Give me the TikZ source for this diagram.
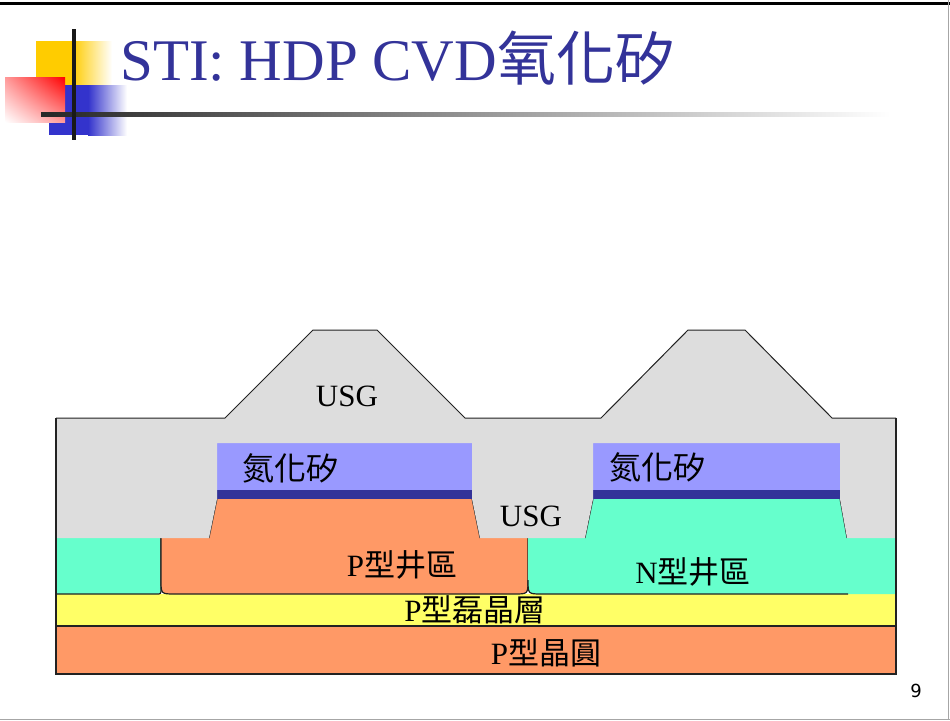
\documentclass[tikz,border=0pt]{standalone}
\usepackage{fontspec}
\usetikzlibrary{shadings}
\setmainfont{Liberation Serif}
\newfontfamily\cjk{Noto Sans CJK TC}
\newfontfamily\numfont{DejaVu Sans}
\definecolor{titleblue}{HTML}{333399}
\definecolor{usg}{HTML}{DDDDDD}
\definecolor{nitride}{HTML}{9999FF}
\definecolor{padox}{HTML}{333399}
\definecolor{pwell}{HTML}{FF9966}
\definecolor{nwell}{HTML}{66FFCC}
\definecolor{epi}{HTML}{FFFF66}
\definecolor{logoyellow}{HTML}{FFCC00}
\definecolor{logoblue}{HTML}{3333CC}
\definecolor{edge}{HTML}{222222}
\begin{document}
\begin{tikzpicture}[x=1pt,y=-1pt,
  outline/.style={draw=edge,line width=1.2pt,line join=miter},
  label/.style={inner sep=0pt,text=black,font=\fontsize{31}{31}\selectfont},
  cjklabel/.style={inner sep=0pt,text=black,font=\fontsize{32}{32}\selectfont\cjk}]
\useasboundingbox (0,0) rectangle (950,720);

% slide frame
\fill[black] (0,2) rectangle (950,5);
\draw[gray!70,line width=1pt] (948,0) -- (948,720);
\draw[gray!70,line width=1pt] (0,719) -- (950,719);

% corner logo
\fill[logoyellow] (36,41) rectangle (72,85);
\shade[left color=logoyellow,right color=white] (72,41) rectangle (112,85);
\fill[logoblue] (49,85) rectangle (88,135);
\shade[left color=logoblue,right color=white] (88,85) rectangle (127,135);
\shade[upper right=red,lower left=white,upper left=red!40!white,lower right=red!40!white]
  (5,77) rectangle (65,122);
\shade[left color=black!85,right color=white] (41,112) rectangle (890,116);
\fill[black!90] (72,29) rectangle (76,140);

% title
\node[anchor=base west,inner sep=0pt,text=titleblue,font=\fontsize{59}{59}\selectfont]
  (title) at (120,80) {STI: HDP CVD{\cjk 氧化矽}};

% substrate layers
\fill[pwell] (56,626) rectangle (896,674);
\fill[epi] (56,594) rectangle (896,626);
\draw[outline] (56,626) -- (896,626);

% left N well
\fill[nwell] (56,538) -- (56,594) -- (156,594) .. controls (161,594) .. (161,589) -- (161,538) -- cycle;
\draw[outline] (56,594) -- (156,594) .. controls (161,594) .. (161,589) -- (161,538);

% P well
\fill[pwell] (209,538) -- (161,538) -- (161,580) .. controls (161,594) .. (175,594)
  -- (514,594) .. controls (528,594) .. (528,580) -- (528,538) -- (480,538)
  -- (472,499) -- (217,499) -- cycle;
\draw[outline] (161,538) -- (161,580) .. controls (161,594) .. (175,594)
  -- (514,594) .. controls (528,594) .. (528,580) -- (528,538);
\draw[edge,line width=1pt] (209,538) -- (217,499);
\draw[edge,line width=1pt] (480,538) -- (472,499);

% N well
\fill[nwell] (528,538) -- (528,580) .. controls (528,594) .. (542,594) -- (896,594)
  -- (896,538) -- (847,538) -- (840,499) -- (593,499) -- (585,538) -- cycle;
\draw[outline] (528,580) .. controls (528,594) .. (542,594) -- (848,594);
\draw[edge,line width=1pt] (585,538) -- (593,499);
\draw[edge,line width=1pt] (847,538) -- (840,499);

% pad oxide and nitride
\fill[padox] (217,490) rectangle (472,499);
\fill[padox] (593,490) rectangle (840,499);
\fill[nitride] (217,443) rectangle (472,490);
\fill[nitride] (593,443) rectangle (840,490);

% HDP CVD USG
\fill[usg] (56,418) -- (225,418) -- (313,330) -- (377,330) -- (465,418) -- (601,418)
  -- (688,330) -- (745,330) -- (832,418) -- (896,418) -- (896,538) -- (847,538)
  -- (840,499) -- (840,443) -- (593,443) -- (593,499) -- (585,538) -- (480,538)
  -- (472,499) -- (472,443) -- (217,443) -- (217,499) -- (209,538) -- (56,538) -- cycle;
\draw[edge,line width=1pt] (56,418) -- (225,418) -- (313,330) -- (377,330) -- (465,418)
  -- (601,418) -- (688,330) -- (745,330) -- (832,418) -- (896,418);

% outer box
\draw[outline] (56,418) -- (56,674) -- (896,674) -- (896,418);

% labels
\node[label] (usgtop) at (347,396) {USG};
\node[label] (usgtrench) at (531,516) {USG};
\node[cjklabel] (sinl) at (290,468) {氮化矽};
\node[cjklabel] (sinr) at (657,467) {氮化矽};
\node[label] (pw) at (402,565) {P{\cjk 型井區}};
\node[label] (nw) at (693,572) {N{\cjk 型井區}};
\node[label] (pepi) at (475,610) {P{\cjk 型磊晶層}};
\node[label] (pwafer) at (546,653) {P{\cjk 型晶圓}};
\node[inner sep=0pt,font=\fontsize{18}{18}\selectfont\numfont] (pnum) at (916,691) {9};
\end{tikzpicture}
\end{document}
